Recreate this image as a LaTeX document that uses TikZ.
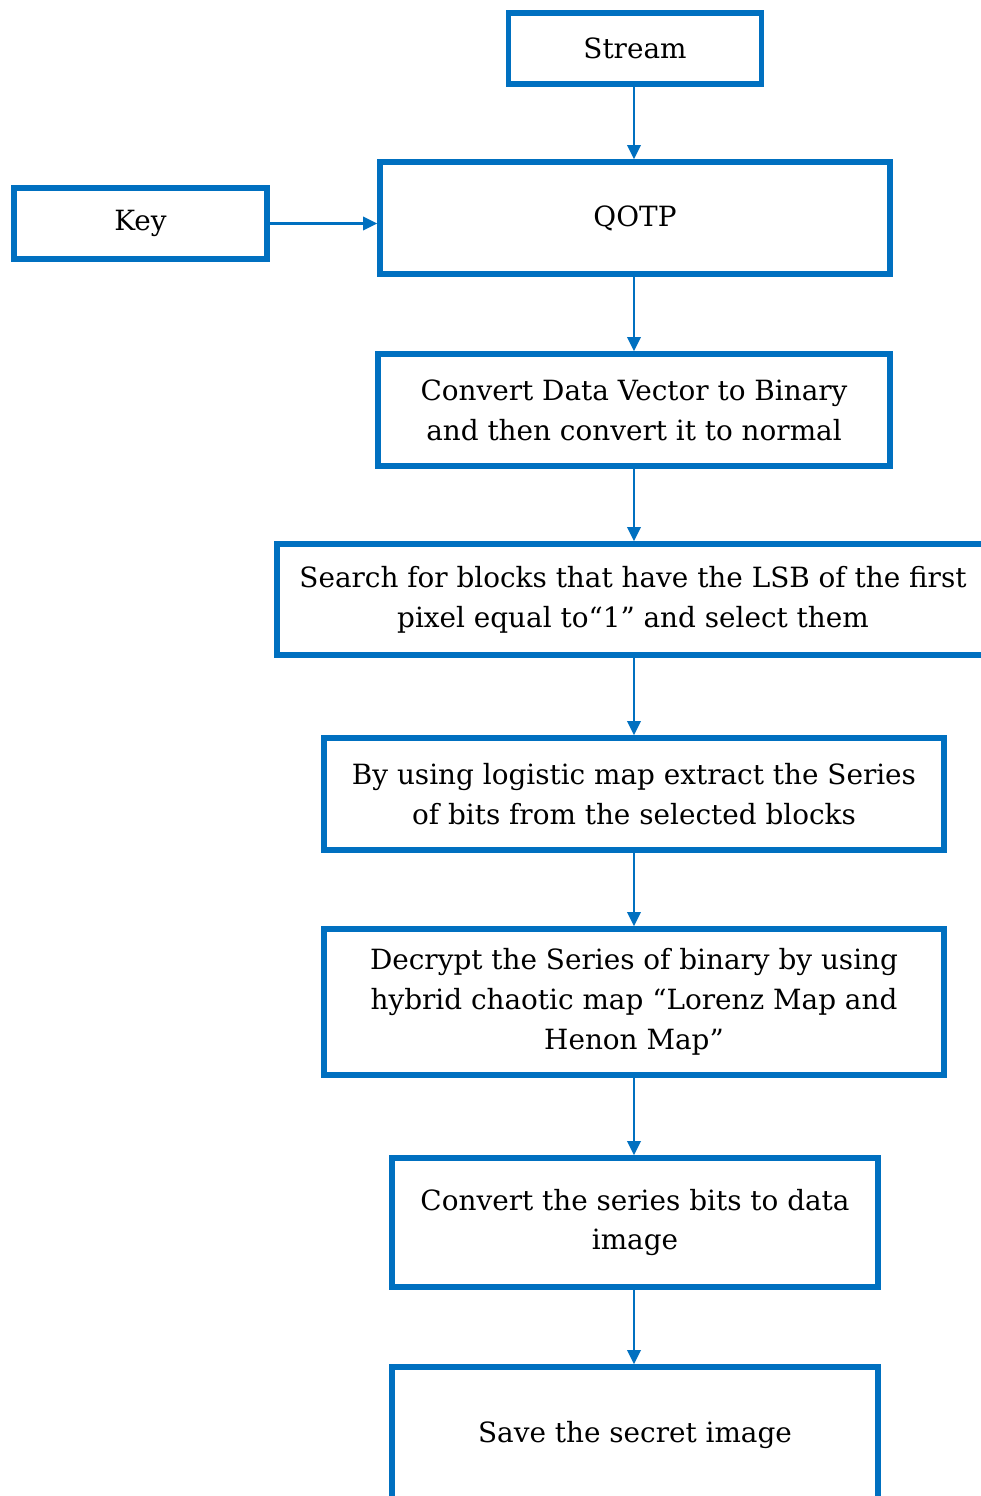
\documentclass[tikz,border=0pt]{standalone}
\usepackage{fontspec}
\setmainfont{DejaVu Serif}
\usetikzlibrary{arrows.meta}
\definecolor{boxblue}{HTML}{0070C0}
\begin{document}
\begin{tikzpicture}[x=0.75pt,y=-0.75pt,
  stepbox/.style={draw=boxblue,line width=4.2pt,fill=white,inner sep=0pt,align=center,
    font=\fontsize{20.9}{29.8}\selectfont,text=black},
  conn/.style={draw=boxblue,line width=1.8pt,-{Triangle[length=10.5pt,width=10pt]}}]
\useasboundingbox (0,0) rectangle (981,1496);
\clip (0,0) rectangle (981,1496);
\fill[white] (0,0) rectangle (981,1496);
\node[stepbox,minimum width=189.75pt,minimum height=53.25pt] (stream) at (635,48.5) {Stream};
\node[stepbox,minimum width=382.5pt,minimum height=84pt] (qotp) at (635,218) {QOTP};
\node[stepbox,minimum width=189.75pt,minimum height=53.25pt] (key) at (140.5,223.5) {Key};
\node[stepbox,minimum width=384pt,minimum height=84pt] (conv) at (634,410) {Convert Data Vector to Binary\\and then convert it to normal};
\node[stepbox,minimum width=534pt,minimum height=83.25pt] (search) at (633,599.5) {Search for blocks that have the LSB of the first\\pixel equal to“1” and select them};
\node[stepbox,minimum width=465pt,minimum height=84pt] (logistic) at (634,794) {By using logistic map extract the Series\\of bits from the selected blocks};
\node[stepbox,minimum width=465pt,minimum height=109.5pt] (decrypt) at (634,1002) {Decrypt the Series of binary by using\\hybrid chaotic map “Lorenz Map and\\Henon Map”};
\node[stepbox,minimum width=364.5pt,minimum height=96.75pt] (bits) at (635,1222.5) {Convert the series bits to data\\image};
\node[stepbox,minimum width=364.5pt,minimum height=102pt] (save) at (635,1435) {Save the secret image};
\draw[conn] (stream.south -| conv.south) -- (qotp.north -| conv.south);
\draw[conn] (key.east) -- (key.east -| qotp.west);
\draw[conn] (qotp.south -| conv.south) -- (conv.north);
\draw[conn] (conv.south) -- (search.north -| conv.south);
\draw[conn] (search.south -| conv.south) -- (logistic.north);
\draw[conn] (logistic.south) -- (decrypt.north);
\draw[conn] (decrypt.south) -- (bits.north -| decrypt.south);
\draw[conn] (bits.south -| decrypt.south) -- (save.north -| decrypt.south);
\end{tikzpicture}
\end{document}
